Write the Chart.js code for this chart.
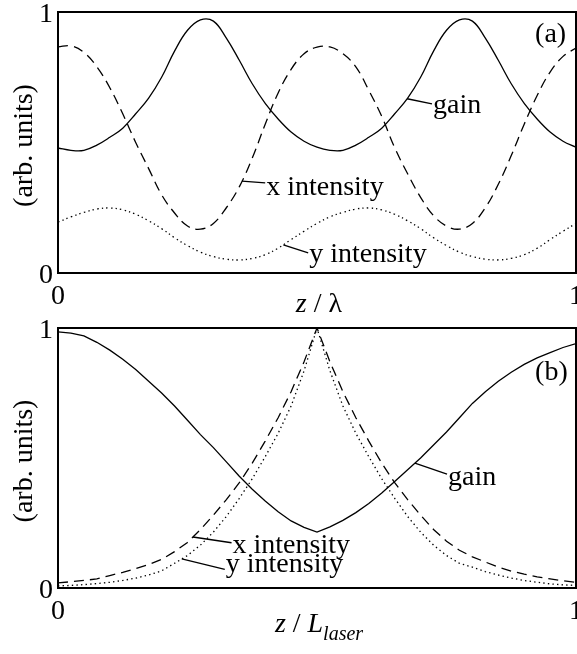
<!DOCTYPE html>
<html>
<head>
<meta charset="utf-8">
<script src="https://cdn.jsdelivr.net/npm/chart.js@4.4.1/dist/chart.umd.min.js"></script>
<style>
  html, body { margin: 0; padding: 0; background: #fff; }
  #fig { position: relative; width: 577px; height: 654px; }
  .panel { position: absolute; left: 0; width: 577px; }
  #panelA { top: 0; height: 320px; }
  #panelB { top: 320px; height: 334px; }
</style>
</head>
<body>
<div id="fig">
  <div class="panel" id="panelA"><canvas id="chartA" width="577" height="320"></canvas></div>
  <div class="panel" id="panelB"><canvas id="chartB" width="577" height="334"></canvas></div>
</div>
<script>
// sample positions along z (fraction of the axis), shared by both panels
const zGrid = [0, 0.025, 0.05, 0.075, 0.1, 0.125, 0.15, 0.175, 0.2, 0.225,
  0.25, 0.275, 0.3, 0.325, 0.35, 0.375, 0.4, 0.425, 0.45, 0.475,
  0.5, 0.525, 0.55, 0.575, 0.6, 0.625, 0.65, 0.675, 0.7, 0.725,
  0.75, 0.775, 0.8, 0.825, 0.85, 0.875, 0.9, 0.925, 0.95, 0.975, 1];

// (a) standing-wave pattern over one wavelength
const gainA = [0.479, 0.47, 0.47, 0.49, 0.52, 0.555, 0.61, 0.67, 0.75, 0.85,
  0.93, 0.97, 0.965, 0.9, 0.815, 0.725, 0.65, 0.59, 0.54, 0.505,
  0.482, 0.47, 0.47, 0.49, 0.52, 0.555, 0.61, 0.67, 0.75, 0.85,
  0.93, 0.97, 0.965, 0.9, 0.815, 0.725, 0.65, 0.59, 0.54, 0.505, 0.482];
const xIntA = [0.866, 0.87, 0.845, 0.79, 0.71, 0.61, 0.5, 0.4, 0.3, 0.23,
  0.18, 0.168, 0.19, 0.25, 0.33, 0.44, 0.57, 0.69, 0.78, 0.84,
  0.865, 0.866, 0.84, 0.79, 0.7, 0.6, 0.48, 0.38, 0.29, 0.22,
  0.18, 0.168, 0.19, 0.25, 0.34, 0.45, 0.57, 0.68, 0.77, 0.83, 0.862];
const yIntA = [0.195, 0.215, 0.232, 0.245, 0.249, 0.242, 0.225, 0.2, 0.17, 0.135,
  0.105, 0.08, 0.063, 0.053, 0.05, 0.056, 0.07, 0.095, 0.128, 0.16,
  0.19, 0.215, 0.232, 0.245, 0.249, 0.242, 0.225, 0.2, 0.17, 0.135,
  0.105, 0.08, 0.063, 0.053, 0.05, 0.056, 0.07, 0.095, 0.128, 0.16, 0.19];

// (b) along the whole laser length
const gainB = [0.985, 0.98, 0.97, 0.945, 0.915, 0.88, 0.84, 0.795, 0.75, 0.7,
  0.645, 0.59, 0.54, 0.485, 0.43, 0.38, 0.335, 0.293, 0.258, 0.233,
  0.215, 0.235, 0.26, 0.29, 0.325, 0.365, 0.41, 0.455, 0.5, 0.55,
  0.6, 0.655, 0.71, 0.755, 0.795, 0.83, 0.86, 0.885, 0.905, 0.925, 0.94];
const xIntB = [0.02, 0.024, 0.029, 0.035, 0.048, 0.06, 0.075, 0.09, 0.11, 0.14,
  0.175, 0.225, 0.28, 0.34, 0.405, 0.48, 0.565, 0.655, 0.755, 0.87,
  1.0, 0.87, 0.755, 0.655, 0.565, 0.48, 0.405, 0.34, 0.28, 0.225,
  0.18, 0.145, 0.12, 0.1, 0.08, 0.065, 0.053, 0.043, 0.035, 0.028, 0.022];
const yIntB = [0.008, 0.01, 0.013, 0.017, 0.022, 0.029, 0.038, 0.05, 0.066, 0.095,
  0.125, 0.165, 0.215, 0.275, 0.345, 0.42, 0.505, 0.595, 0.7, 0.835,
  1.0, 0.835, 0.7, 0.595, 0.505, 0.42, 0.345, 0.275, 0.215, 0.165,
  0.125, 0.095, 0.08, 0.063, 0.05, 0.038, 0.029, 0.022, 0.016, 0.012, 0.01];

const xTicks = [0, 1];
const yTicks = [0, 1];

const serif = '"Liberation Serif", "Times New Roman", Times, serif';

function toPoints(values) {
  return zGrid.map((z, i) => ({ x: z, y: values[i] }));
}

// linear lookup so leader lines start right on their curve
function valueAt(values, z) {
  for (let i = 1; i < zGrid.length; i++) {
    if (z <= zGrid[i]) {
      const t = (z - zGrid[i - 1]) / (zGrid[i] - zGrid[i - 1]);
      return values[i - 1] + t * (values[i] - values[i - 1]);
    }
  }
  return values[values.length - 1];
}

function drawRuns(ctx, runs, cx, baseline) {
  let total = 0;
  runs.forEach((r) => { ctx.font = r.font; r.w = ctx.measureText(r.text).width; total += r.w; });
  let xPos = cx - total / 2;
  ctx.textAlign = 'left';
  ctx.textBaseline = 'alphabetic';
  runs.forEach((r) => {
    ctx.font = r.font;
    ctx.fillText(r.text, xPos, baseline + (r.dy || 0));
    xPos += r.w;
  });
}

// frame, tick labels, axis titles, panel tag and curve labels
const figureText = {
  id: 'figureText',
  afterDatasetsDraw(chart, args, opts) {
    const { ctx, chartArea: a, scales: { x, y } } = chart;
    ctx.save();
    ctx.fillStyle = '#000';
    ctx.strokeStyle = '#000';

    ctx.lineWidth = 2;
    ctx.strokeRect(a.left, a.top, a.right - a.left, a.bottom - a.top);

    ctx.font = `28px ${serif}`;
    ctx.textBaseline = 'alphabetic';
    ctx.textAlign = 'right';
    yTicks.forEach((v) => ctx.fillText(String(v), a.left - 5, y.getPixelForValue(v) + 10));
    ctx.textAlign = 'center';
    xTicks.forEach((v) => ctx.fillText(String(v), x.getPixelForValue(v), a.bottom + 31));

    ctx.save();
    ctx.translate(25, (a.top + a.bottom) / 2 + 3);
    ctx.rotate(-Math.PI / 2);
    ctx.textBaseline = 'middle';
    ctx.fillText('(arb. units)', 0, 0);
    ctx.restore();

    drawRuns(ctx, opts.xTitle, (a.left + a.right) / 2 + 2, a.bottom + opts.titleGap);

    ctx.font = `28px ${serif}`;
    ctx.textAlign = 'left';
    ctx.textBaseline = 'alphabetic';
    ctx.fillText(opts.tag.text, x.getPixelForValue(opts.tag.at[0]), y.getPixelForValue(opts.tag.at[1]));

    ctx.lineWidth = 1.3;
    opts.notes.forEach((n) => {
      const x0 = x.getPixelForValue(n.z);
      const y0 = y.getPixelForValue(valueAt(n.series, n.z));
      const x1 = x.getPixelForValue(n.to[0]);
      const y1 = y.getPixelForValue(n.to[1]);
      ctx.beginPath();
      ctx.moveTo(x0, y0);
      ctx.lineTo(x1, y1);
      ctx.stroke();
      ctx.fillText(n.text, x1 + 1, y1 + n.dy);
    });
    ctx.restore();
  },
};

function lineSet(values, dash, tension) {
  return {
    data: toPoints(values),
    borderColor: '#000',
    borderWidth: 1.3,
    borderDash: dash,
    pointRadius: 0,
    tension,
    fill: false,
  };
}

function makePanel(canvasId, sets, axisHeight, padTop, textOpts) {
  return new Chart(document.getElementById(canvasId), {
    type: 'line',
    data: { datasets: sets },
    options: {
      responsive: false,
      animation: false,
      layout: { padding: { top: padTop, right: 1, left: 0, bottom: 0 } },
      scales: {
        x: {
          type: 'linear',
          min: 0,
          max: 1,
          grid: { display: false },
          border: { display: false },
          ticks: { display: false },
          afterFit: (s) => { s.height = axisHeight; },
        },
        y: {
          min: 0,
          max: 1,
          grid: { display: false },
          border: { display: false },
          ticks: { display: false },
          afterFit: (s) => { s.width = 58; },
        },
      },
      plugins: {
        legend: { display: false },
        tooltip: { enabled: false },
        figureText: textOpts,
      },
    },
    plugins: [figureText],
  });
}

makePanel('chartA', [
  lineSet(gainA, [], 0.4),
  lineSet(xIntA, [10, 6], 0.4),
  lineSet(yIntA, [1.4, 3.2], 0.4),
], 47, 12, {
  xTitle: [
    { text: 'z', font: `italic 28px ${serif}` },
    { text: ' / ', font: `28px ${serif}` },
    { text: 'λ', font: `28px ${serif}` },
  ],
  titleGap: 39,
  tag: { text: '(a)', at: [0.921, 0.885] },
  notes: [
    { text: 'gain', series: gainA, z: 0.674, to: [0.722, 0.648], dy: 9 },
    { text: 'x intensity', series: xIntA, z: 0.355, to: [0.4, 0.345], dy: 12 },
    { text: 'y intensity', series: yIntA, z: 0.435, to: [0.483, 0.077], dy: 9 },
  ],
});

makePanel('chartB', [
  lineSet(gainB, [], 0),
  lineSet(xIntB, [10, 6], 0),
  lineSet(yIntB, [1.4, 3.2], 0),
], 66, 8, {
  xTitle: [
    { text: 'z', font: `italic 28px ${serif}` },
    { text: ' / ', font: `28px ${serif}` },
    { text: 'L', font: `italic 28px ${serif}` },
    { text: 'laser', font: `italic 20px ${serif}`, dy: 8 },
  ],
  titleGap: 44,
  tag: { text: '(b)', at: [0.921, 0.8] },
  notes: [
    { text: 'gain', series: gainB, z: 0.689, to: [0.751, 0.438], dy: 11 },
    { text: 'x intensity', series: xIntB, z: 0.2606, to: [0.335, 0.174], dy: 10 },
    { text: 'y intensity', series: yIntB, z: 0.239, to: [0.322, 0.072], dy: 3 },
  ],
});
</script>
</body>
</html>
